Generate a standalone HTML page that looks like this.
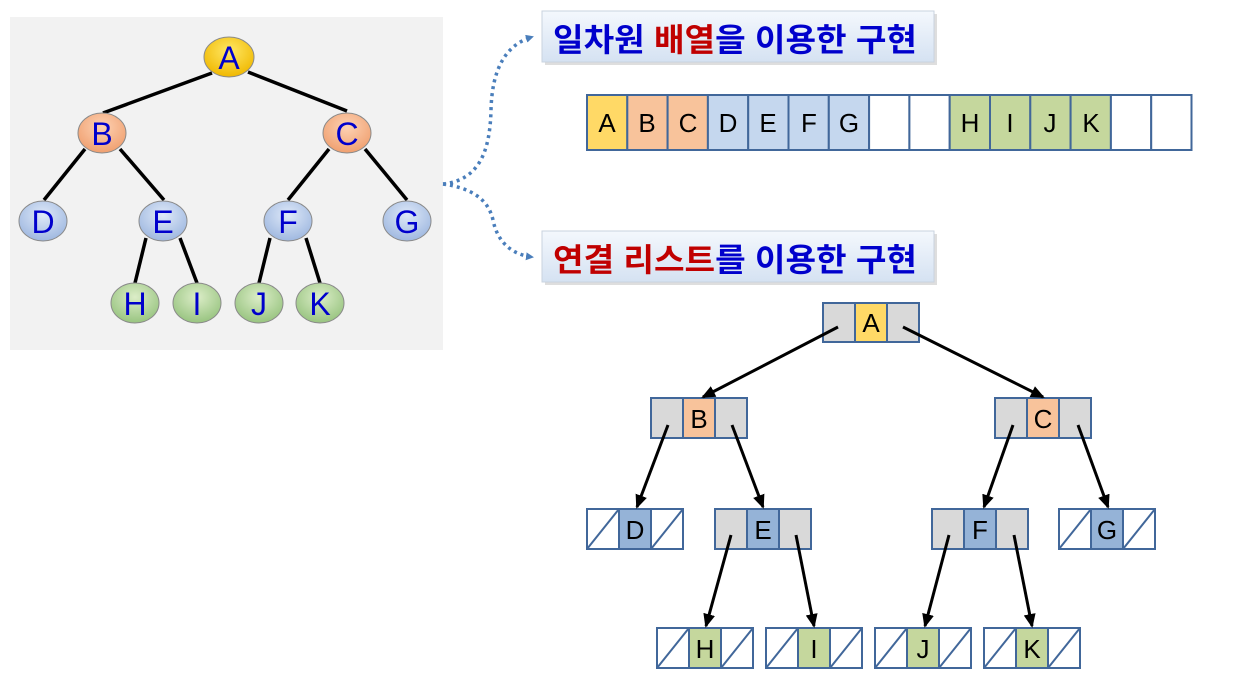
<!DOCTYPE html>
<html><head><meta charset="utf-8"><style>
html,body{margin:0;padding:0;background:#fff;width:1260px;height:690px;overflow:hidden}
svg{display:block}
.n{font-family:"Liberation Sans",sans-serif;font-size:32px;fill:#0000cc;text-anchor:middle}
.c{font-family:"Liberation Sans",sans-serif;font-size:26px;fill:#000;text-anchor:middle}
.k{font-family:"Liberation Sans","Noto Sans CJK KR",sans-serif;font-size:32px;font-weight:bold}
</style></head><body>
<svg width="1260" height="690" viewBox="0 0 1260 690">
<defs>
<radialGradient id="gy" cx="50%" cy="35%" r="65%"><stop offset="0" stop-color="#ffe866"/><stop offset="1" stop-color="#f0b800"/></radialGradient>
<radialGradient id="go" cx="50%" cy="35%" r="65%"><stop offset="0" stop-color="#fdd2b4"/><stop offset="1" stop-color="#f0a070"/></radialGradient>
<radialGradient id="gb" cx="50%" cy="35%" r="65%"><stop offset="0" stop-color="#dfe9f8"/><stop offset="1" stop-color="#9fb8e0"/></radialGradient>
<radialGradient id="gg" cx="50%" cy="35%" r="65%"><stop offset="0" stop-color="#dcedc8"/><stop offset="1" stop-color="#98c480"/></radialGradient>
<linearGradient id="tb" x1="0" y1="0" x2="0" y2="1"><stop offset="0" stop-color="#f4f8fd"/><stop offset="1" stop-color="#d5e2f2"/></linearGradient>
<marker id="ah" markerWidth="8" markerHeight="8" refX="6" refY="4" orient="auto" markerUnits="userSpaceOnUse"><path d="M0,0 L8,4 L0,8 Z" fill="#4a7ebb"/></marker>
<marker id="ab" markerWidth="14" markerHeight="12" refX="12" refY="6" orient="auto" markerUnits="userSpaceOnUse"><path d="M0,0 L14,6 L0,12 Z" fill="#000"/></marker>
</defs>
<rect x="10" y="17" width="433" height="333" fill="#f2f2f2"/>
<g stroke="#000" stroke-width="3.5">
<line x1="212" y1="73" x2="103" y2="113"/><line x1="248" y1="72" x2="347" y2="111"/>
<line x1="85" y1="149" x2="44" y2="200"/><line x1="120" y1="149" x2="164" y2="200"/>
<line x1="329" y1="149" x2="288" y2="200"/><line x1="365" y1="149" x2="407" y2="200"/>
<line x1="146" y1="238" x2="135" y2="283"/><line x1="180" y1="238" x2="197" y2="283"/>
<line x1="270" y1="238" x2="259" y2="283"/><line x1="306" y1="238" x2="320" y2="283"/>
</g>
<g stroke="#8a8a8a" stroke-width="1">
<ellipse cx="229" cy="57" rx="25" ry="20" fill="url(#gy)"/>
<ellipse cx="102" cy="133" rx="24" ry="20" fill="url(#go)"/>
<ellipse cx="347" cy="133" rx="24" ry="20" fill="url(#go)"/>
<ellipse cx="43" cy="221" rx="24" ry="20" fill="url(#gb)"/>
<ellipse cx="163" cy="221" rx="24" ry="20" fill="url(#gb)"/>
<ellipse cx="288" cy="221" rx="24" ry="20" fill="url(#gb)"/>
<ellipse cx="407" cy="221" rx="24" ry="20" fill="url(#gb)"/>
<ellipse cx="135" cy="303" rx="24" ry="20" fill="url(#gg)"/>
<ellipse cx="197" cy="303" rx="24" ry="20" fill="url(#gg)"/>
<ellipse cx="259" cy="303" rx="24" ry="20" fill="url(#gg)"/>
<ellipse cx="320" cy="303" rx="24" ry="20" fill="url(#gg)"/>
</g>
<text class="n" x="229" y="69">A</text><text class="n" x="102" y="145">B</text><text class="n" x="347" y="145">C</text>
<text class="n" x="43" y="233">D</text><text class="n" x="163" y="233">E</text><text class="n" x="288" y="233">F</text><text class="n" x="407" y="233">G</text>
<text class="n" x="135" y="315">H</text><text class="n" x="197" y="315">I</text><text class="n" x="259" y="315">J</text><text class="n" x="320" y="315">K</text>
<g fill="none" stroke="#4a7ebb" stroke-width="3.5" stroke-dasharray="3,4">
<path d="M443,184 C480,180 490,150 491,110 C492,70 505,45 532,37" marker-end="url(#ah)"/>
<path d="M443,184 C470,188 488,198 493,220 C498,245 515,255 532,257" marker-end="url(#ah)"/>
</g>
<rect x="545" y="14" width="392" height="51" fill="#c8c8c8" opacity="0.6"/>
<rect x="542" y="11" width="392" height="51" fill="url(#tb)" stroke="#c9d3df"/>
<text class="k" x="553" y="51" textLength="364" lengthAdjust="spacingAndGlyphs"><tspan fill="#0000cc">일차원 </tspan><tspan fill="#c00000">배열</tspan><tspan fill="#0000cc">을 이용한 구현</tspan></text>
<rect x="545" y="234" width="392" height="51" fill="#c8c8c8" opacity="0.6"/>
<rect x="542" y="231" width="392" height="51" fill="url(#tb)" stroke="#c9d3df"/>
<text class="k" x="553" y="271" textLength="364" lengthAdjust="spacingAndGlyphs"><tspan fill="#c00000">연결 리스트</tspan><tspan fill="#0000cc">를 이용한 구현</tspan></text>
<g stroke="#41679a" stroke-width="2">
<rect x="587" y="95" width="40.3" height="55" fill="#ffd966"/>
<rect x="627.3" y="95" width="40.3" height="55" fill="#f8c39b"/>
<rect x="667.6" y="95" width="40.3" height="55" fill="#f8c39b"/>
<rect x="707.9" y="95" width="40.3" height="55" fill="#c5d7ee"/>
<rect x="748.2" y="95" width="40.3" height="55" fill="#c5d7ee"/>
<rect x="788.5" y="95" width="40.3" height="55" fill="#c5d7ee"/>
<rect x="828.8" y="95" width="40.3" height="55" fill="#c5d7ee"/>
<rect x="869.1" y="95" width="40.3" height="55" fill="#fff"/>
<rect x="909.4" y="95" width="40.3" height="55" fill="#fff"/>
<rect x="949.7" y="95" width="40.3" height="55" fill="#c5d79d"/>
<rect x="990" y="95" width="40.3" height="55" fill="#c5d79d"/>
<rect x="1030.3" y="95" width="40.3" height="55" fill="#c5d79d"/>
<rect x="1070.6" y="95" width="40.3" height="55" fill="#c5d79d"/>
<rect x="1110.9" y="95" width="40.3" height="55" fill="#fff"/>
<rect x="1151.2" y="95" width="40.3" height="55" fill="#fff"/>
</g>
<text class="c" x="607" y="132">A</text><text class="c" x="647" y="132">B</text><text class="c" x="688" y="132">C</text><text class="c" x="728" y="132">D</text><text class="c" x="768" y="132">E</text><text class="c" x="809" y="132">F</text><text class="c" x="849" y="132">G</text>
<text class="c" x="970" y="132">H</text><text class="c" x="1010" y="132">I</text><text class="c" x="1050" y="132">J</text><text class="c" x="1091" y="132">K</text>
<g stroke="#41679a" stroke-width="2">
<rect x="823" y="303" width="32" height="39" fill="#d9d9d9"/><rect x="855" y="303" width="32" height="39" fill="#ffd966"/><rect x="887" y="303" width="32" height="39" fill="#d9d9d9"/>
<rect x="651" y="398" width="32" height="40" fill="#d9d9d9"/><rect x="683" y="398" width="32" height="40" fill="#f8c39b"/><rect x="715" y="398" width="32" height="40" fill="#d9d9d9"/>
<rect x="995" y="398" width="32" height="40" fill="#d9d9d9"/><rect x="1027" y="398" width="32" height="40" fill="#f8c39b"/><rect x="1059" y="398" width="32" height="40" fill="#d9d9d9"/>
<rect x="587" y="509" width="32" height="40" fill="#fff"/><rect x="619" y="509" width="32" height="40" fill="#95b3d7"/><rect x="651" y="509" width="32" height="40" fill="#fff"/>
<line x1="587" y1="549" x2="619" y2="509"/><line x1="651" y1="549" x2="683" y2="509"/>
<rect x="715" y="509" width="32" height="40" fill="#d9d9d9"/><rect x="747" y="509" width="32" height="40" fill="#95b3d7"/><rect x="779" y="509" width="32" height="40" fill="#d9d9d9"/>
<rect x="932" y="509" width="32" height="40" fill="#d9d9d9"/><rect x="964" y="509" width="32" height="40" fill="#95b3d7"/><rect x="996" y="509" width="32" height="40" fill="#d9d9d9"/>
<rect x="1059" y="509" width="32" height="40" fill="#fff"/><rect x="1091" y="509" width="32" height="40" fill="#95b3d7"/><rect x="1123" y="509" width="32" height="40" fill="#fff"/>
<line x1="1059" y1="549" x2="1091" y2="509"/><line x1="1123" y1="549" x2="1155" y2="509"/>
<rect x="657" y="628" width="32" height="40" fill="#fff"/><rect x="689" y="628" width="32" height="40" fill="#c5d79d"/><rect x="721" y="628" width="32" height="40" fill="#fff"/>
<line x1="657" y1="668" x2="689" y2="628"/><line x1="721" y1="668" x2="753" y2="628"/>
<rect x="766" y="628" width="32" height="40" fill="#fff"/><rect x="798" y="628" width="32" height="40" fill="#c5d79d"/><rect x="830" y="628" width="32" height="40" fill="#fff"/>
<line x1="766" y1="668" x2="798" y2="628"/><line x1="830" y1="668" x2="862" y2="628"/>
<rect x="875" y="628" width="32" height="40" fill="#fff"/><rect x="907" y="628" width="32" height="40" fill="#c5d79d"/><rect x="939" y="628" width="32" height="40" fill="#fff"/>
<line x1="875" y1="668" x2="907" y2="628"/><line x1="939" y1="668" x2="971" y2="628"/>
<rect x="984" y="628" width="32" height="40" fill="#fff"/><rect x="1016" y="628" width="32" height="40" fill="#c5d79d"/><rect x="1048" y="628" width="32" height="40" fill="#fff"/>
<line x1="984" y1="668" x2="1016" y2="628"/><line x1="1048" y1="668" x2="1080" y2="628"/>
</g>
<text class="c" x="871" y="332">A</text>
<text class="c" x="699" y="428">B</text><text class="c" x="1043" y="428">C</text>
<text class="c" x="635" y="539">D</text><text class="c" x="763" y="539">E</text><text class="c" x="980" y="539">F</text><text class="c" x="1107" y="539">G</text>
<text class="c" x="705" y="658">H</text><text class="c" x="814" y="658">I</text><text class="c" x="923" y="658">J</text><text class="c" x="1032" y="658">K</text>
<g stroke="#000" stroke-width="3" marker-end="url(#ab)">
<line x1="838" y1="327" x2="703" y2="397"/>
<line x1="903" y1="327" x2="1043" y2="397"/>
<line x1="668" y1="425" x2="637" y2="507"/>
<line x1="732" y1="425" x2="763" y2="507"/>
<line x1="1013" y1="425" x2="984" y2="507"/>
<line x1="1078" y1="425" x2="1108" y2="507"/>
<line x1="731" y1="535" x2="706" y2="626"/>
<line x1="796" y1="535" x2="814" y2="626"/>
<line x1="949" y1="535" x2="925" y2="626"/>
<line x1="1014" y1="535" x2="1032" y2="626"/>
</g>
</svg>
</body></html>
